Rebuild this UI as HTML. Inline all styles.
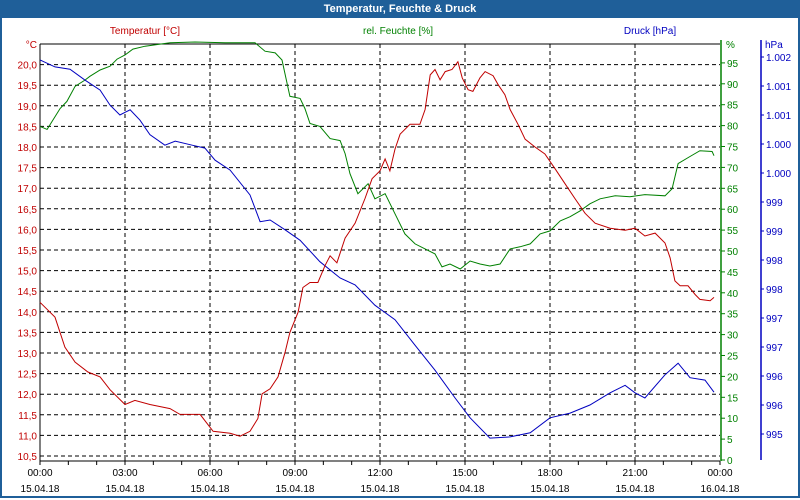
<!DOCTYPE html>
<html><head><meta charset="utf-8"><style>
body{margin:0;width:800px;height:500px;overflow:hidden;background:#fff;font-family:"Liberation Sans",sans-serif}
#wrap{position:absolute;left:0;top:0;width:796px;height:496px;border:2px solid #1f5f99;border-top:none}
#title{position:absolute;left:0;top:0;width:800px;height:18px;background:#1f5f99;color:#fff;font-weight:bold;font-size:11px;line-height:18px;text-align:center}
svg text{font-family:"Liberation Sans",sans-serif;font-size:10px}
</style></head><body>
<div id="wrap"></div>
<div id="title">Temperatur, Feuchte &amp; Druck</div>
<svg id="chart" width="800" height="500" style="position:absolute;left:0;top:0"></svg>
<script>
const tempTicks=["10,5","11,0","11,5","12,0","12,5","13,0","13,5","14,0","14,5","15,0","15,5","16,0","16,5","17,0","17,5","18,0","18,5","19,0","19,5","20,0"];
const humTicks=[0,5,10,15,20,25,30,35,40,45,50,55,60,65,70,75,80,85,90,95];
const presTickVals=[1002,1001.5,1001,1000.5,1000,999.5,999,998.5,998,997.5,997,996.5,996,995.5];
const presTickLabels=["1.002","1.001","1.001","1.000","1.000","999","999","998","998","997","997","996","996","995"];
const timeLabels=["00:00","03:00","06:00","09:00","12:00","15:00","18:00","21:00","00:00"];
const dateLabels=["15.04.18","15.04.18","15.04.18","15.04.18","15.04.18","15.04.18","15.04.18","15.04.18","16.04.18"];
const tempHours=[0,0.53,0.88,1.24,1.69,2.12,2.47,3.0,3.35,3.88,4.59,4.94,5.65,6.11,6.71,7.06,7.41,7.69,7.84,8.12,8.4,8.65,8.82,9.11,9.28,9.53,9.81,10.06,10.24,10.48,10.77,11.12,11.47,11.72,12.0,12.18,12.35,12.53,12.71,13.06,13.41,13.59,13.77,13.94,14.12,14.3,14.54,14.75,14.9,15.11,15.28,15.53,15.71,15.99,16.17,16.41,16.59,16.87,17.12,17.47,17.82,18.18,18.53,18.88,19.24,19.59,20.12,20.65,21.0,21.35,21.71,22.06,22.24,22.41,22.59,22.87,23.12,23.29,23.65,23.79];
const tempValues=[14.23,13.87,13.14,12.78,12.54,12.42,12.11,11.75,11.85,11.75,11.65,11.51,11.51,11.1,11.05,10.98,11.1,11.41,12.01,12.13,12.42,13.02,13.5,13.99,14.59,14.71,14.71,15.12,15.36,15.19,15.79,16.15,16.75,17.23,17.42,17.71,17.42,17.95,18.31,18.55,18.55,18.91,19.75,19.88,19.63,19.83,19.88,20.07,19.68,19.39,19.35,19.68,19.83,19.73,19.51,19.27,18.91,18.55,18.19,18.0,17.83,17.47,17.11,16.75,16.39,16.15,16.03,15.98,16.03,15.84,15.91,15.67,15.31,14.75,14.63,14.63,14.42,14.3,14.27,14.35];
const humHours=[0,0.25,0.71,0.95,1.24,1.59,1.76,2.12,2.47,2.72,3.0,3.28,3.71,4.59,5.47,6.53,7.59,7.94,8.3,8.54,8.82,9.18,9.35,9.53,9.88,10.24,10.59,10.77,10.94,11.22,11.58,11.82,12.18,12.53,12.88,13.24,13.59,13.94,14.19,14.47,14.83,15.18,15.53,15.88,16.24,16.59,16.94,17.3,17.65,18.0,18.36,18.71,19.06,19.41,19.77,20.3,20.82,21.35,22.06,22.31,22.52,22.94,23.29,23.72,23.79];
const humValues=[79.8,79.1,84.1,85.8,89.4,90.9,91.8,93.3,94.2,95.9,96.9,98.3,99.0,99.8,100,99.8,99.8,97.8,97.4,95.7,87.0,86.5,84.1,80.5,79.8,76.9,76.4,73.3,68.5,63.7,66.1,62.5,63.7,58.9,54.1,51.7,50.5,49.3,46.2,46.9,45.7,47.6,46.9,46.4,46.9,50.5,51.0,51.7,54.1,54.8,57.2,58.2,59.6,61.3,62.5,63.2,63.0,63.5,63.2,64.9,70.9,72.6,74.0,73.8,72.8];
const presHours=[0,0.53,1.06,1.59,2.12,2.47,2.82,3.18,3.53,3.88,4.41,4.77,5.37,5.82,6.18,6.71,7.41,7.77,8.12,8.65,9.18,9.88,10.59,11.12,11.82,12.53,13.24,13.94,14.65,15.18,15.88,16.59,17.3,18.0,18.71,19.41,20.12,20.65,21.0,21.35,22.06,22.52,22.94,23.47,23.79];
const presValues=[1001.95,1001.83,1001.79,1001.6,1001.43,1001.17,1001.0,1001.09,1000.91,1000.66,1000.48,1000.55,1000.48,1000.43,1000.22,1000.05,999.62,999.16,999.19,999.02,998.84,998.47,998.19,998.07,997.72,997.47,997.03,996.6,996.12,995.78,995.43,995.45,995.52,995.78,995.86,996.0,996.21,996.34,996.21,996.12,996.52,996.72,996.47,996.43,996.22];

const svg=document.getElementById('chart');
const NS='http://www.w3.org/2000/svg';
const X0=40,X1=720;
const xs=h=>X0+h*(X1-X0)/24;
const yT=t=>456-(t-10.5)*41.2;
const yH=v=>460-v*4.18;
const yP=p=>57+(1002-p)*58;
function mk(tag,attrs,txt){const e=document.createElementNS(NS,tag);for(const k in attrs)e.setAttribute(k,attrs[k]);if(txt!==undefined)e.textContent=txt;svg.appendChild(e);return e;}

// horizontal grid
for(let i=0;i<=20;i++){const y=456-i*20.6;
 const g=mk('line',{x1:X0,x2:X1,y1:y,y2:y,stroke:'#000','stroke-dasharray':'4,3','stroke-width':1});
 
 }
// vertical grid
for(let i=1;i<8;i++){const x=xs(i*3);
 const g=mk('line',{x1:x,x2:x,y1:44,y2:461,stroke:'#000','stroke-dasharray':'4,3'});
 
 }
// axes
const ax=mk('line',{x1:X0,x2:X0,y1:44,y2:462,stroke:'#000'});
const ax2=mk('line',{x1:X0,x2:X1,y1:461,y2:461,stroke:'#000'});
const ax3=mk('line',{x1:X0,x2:X1,y1:44,y2:44,stroke:'#000'});
const ax4=mk('line',{x1:721,x2:721,y1:40,y2:461,stroke:'#008000','stroke-width':1.5});
const ax5=mk('line',{x1:761,x2:761,y1:40,y2:460,stroke:'#0000c0','stroke-width':1.5});
// time ticks & labels
for(let i=0;i<=24;i++){const x=xs(i);const t=mk('line',{x1:x,x2:x,y1:461,y2:465,stroke:'#000'});}
timeLabels.forEach((l,i)=>{const x=xs(i*3);
 const a=mk('text',{x:x,y:476,'text-anchor':'middle',fill:'#000'},l);
 const b=mk('text',{x:x,y:492,'text-anchor':'middle',fill:'#000'},dateLabels[i]);});
// temp labels
tempTicks.forEach((l,i)=>{const v=10.5+i*0.5;const e=mk('text',{x:37,y:yT(v)+4,'text-anchor':'end',fill:'#c00000'},l);});
const tu=mk('text',{x:37,y:48,'text-anchor':'end',fill:'#c00000'},'°C');
// humidity labels
humTicks.forEach(v=>{const y=yH(v);const t=mk('line',{x1:721,x2:725,y1:y,y2:y,stroke:'#008000'});
 const e=mk('text',{x:727,y:y+4,fill:'#008000'},String(v));});
const hu=mk('text',{x:726,y:48,fill:'#008000'},'%');
// pressure labels
presTickVals.forEach((v,i)=>{const y=yP(v);const t=mk('line',{x1:761,x2:764,y1:y,y2:y,stroke:'#0000c0'});
 const e=mk('text',{x:766,y:y+4,fill:'#0000c0'},presTickLabels[i]);});
const pu=mk('text',{x:765,y:48,fill:'#0000c0'},'hPa');
// series titles
const s1=mk('text',{x:145,y:34,'text-anchor':'middle',fill:'#c00000'},'Temperatur [°C]');
const s2=mk('text',{x:398,y:34,'text-anchor':'middle',fill:'#008000'},'rel. Feuchte [%]');
const s3=mk('text',{x:650,y:34,'text-anchor':'middle',fill:'#0000c0'},'Druck [hPa]');
// series
function line(hours,vals,yf,color,name){const pts=hours.map((h,i)=>xs(h).toFixed(1)+','+yf(vals[i]).toFixed(1)).join(' ');
 const p=mk('polyline',{points:pts,fill:'none',stroke:color,'stroke-width':1});
 
 }
line(humHours,humValues,yH,'#008000','humidity-line');
line(presHours,presValues,yP,'#0000c0','pressure-line');
line(tempHours,tempValues,yT,'#c00000','temperature-line');
</script>
</body></html>
